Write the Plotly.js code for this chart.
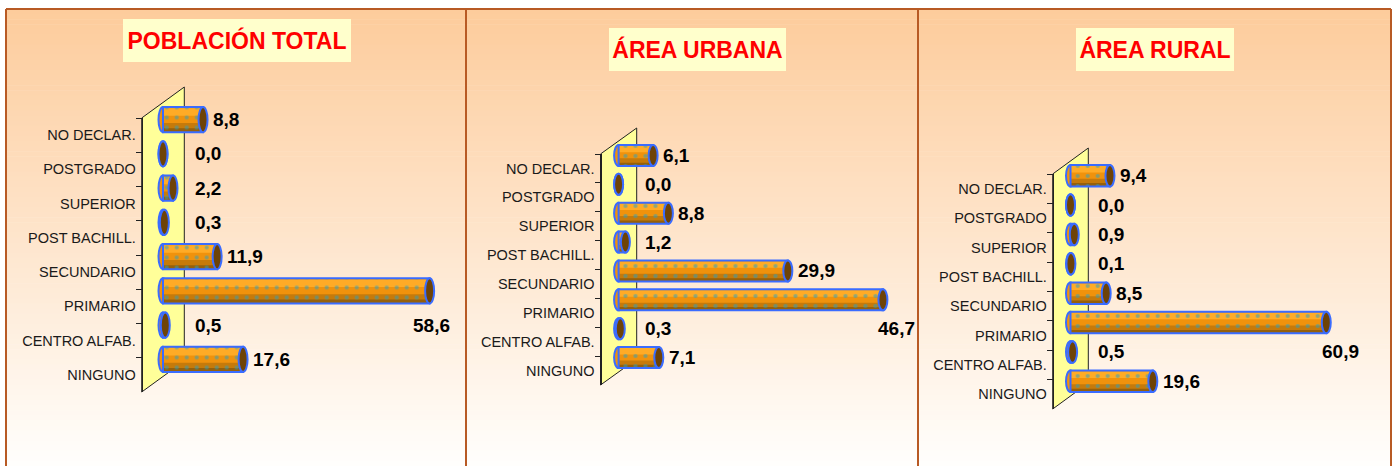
<!DOCTYPE html>
<html><head><meta charset="utf-8">
<script src="https://cdn.plot.ly/plotly-3.0.1.min.js"></script>
<style>html,body{margin:0;padding:0;background:#fff;}#chart{width:1394px;height:466px;}</style>
</head><body><div id="chart"></div>
<script>
// ---- data ----
const categories = ["NO DECLAR.","POSTGRADO","SUPERIOR","POST BACHILL.","SECUNDARIO","PRIMARIO","CENTRO ALFAB.","NINGUNO"];
const totalValues = [8.8, 0.0, 2.2, 0.3, 11.9, 58.6, 0.5, 17.6];
const urbanValues = [6.1, 0.0, 8.8, 1.2, 29.9, 46.7, 0.3, 7.1];
const ruralValues = [9.4, 0.0, 0.9, 0.1, 8.5, 60.9, 0.5, 19.6];
const panelTitles = ["POBLACIÓN TOTAL", "ÁREA URBANA", "ÁREA RURAL"];

// ---- layout geometry (pixels) ----
const W = 1394, H = 466;
const px = x => x / W, py = y => 1 - y / H;
const FONT = "Liberation Sans, Arial, sans-serif";
const panels = [
  {values: totalValues, title: panelTitles[0], front: 141.7, dx: 42.6, dy: -31, top: 118, bottom: 392, ppu: 4.55, right: 462, minLabel: 32, maxShift: 20, titleX: 237, titleY: 40.5, titleW: 224},
  {values: urbanValues, title: panelTitles[1], front: 600.5, dx: 36.2, dy: -26, top: 154, bottom: 385, ppu: 5.66, right: 916, minLabel: 26, maxShift: 32, titleX: 697.5, titleY: 49.5, titleW: 173},
  {values: ruralValues, title: panelTitles[2], front: 1052.7, dx: 35.6, dy: -26, top: 174, bottom: 409, ppu: 4.2, right: 1389, minLabel: 27, maxShift: 33, titleX: 1155, titleY: 49.5, titleW: 154}
];
const BW = 0.73;
const BLUE = "#3A6CFF";

const traces = [], shapes = [], annotations = [];
const layout = {
  width: W, height: H, margin: {l: 0, r: 0, t: 0, b: 0},
  paper_bgcolor: "#ffffff", plot_bgcolor: "rgba(0,0,0,0)",
  barmode: "overlay", showlegend: false, font: {family: FONT}
};

// background gradient strips
const N = 90, y0bg = 9, y1bg = 466;
const cTop = [253, 204, 156], cBot = [255, 254, 252];
for (let k = 0; k < N; k++) {
  const t = k / (N - 1);
  const c = cTop.map((a, j) => Math.round(a + (cBot[j] - a) * t));
  shapes.push({type: "rect", xref: "paper", yref: "paper", layer: "below",
    x0: px(6), x1: px(1391), y0: py(y0bg + (y1bg - y0bg) * k / N), y1: py(y0bg + (y1bg - y0bg) * (k + 1) / N + 0.6),
    fillcolor: `rgb(${c[0]},${c[1]},${c[2]})`, line: {width: 0}});
}
// panel borders
const BORDER = "#B85A24";
shapes.push({type: "line", xref: "paper", yref: "paper", layer: "above", x0: px(6), x1: px(1391), y0: py(9), y1: py(9), line: {color: BORDER, width: 2}});
[6, 466, 918, 1391].forEach(x => shapes.push({type: "line", xref: "paper", yref: "paper", layer: "above", x0: px(x), x1: px(x), y0: py(9), y1: py(466), line: {color: BORDER, width: 2}}));

panels.forEach((p, i) => {
  const xid = i === 0 ? "x" : "x" + (i + 1);
  const ybId = i === 0 ? "y" : "y" + (2 * i + 1);
  const ylId = "y" + (2 * i + 2);
  const xkey = i === 0 ? "xaxis" : "xaxis" + (i + 1);
  const ybKey = i === 0 ? "yaxis" : "yaxis" + (2 * i + 1);
  const ylKey = "yaxis" + (2 * i + 2);
  const zero = p.front + p.dx / 2;
  const band = (p.bottom - p.top) / categories.length;
  const maxV = Math.max(...p.values);

  layout[xkey] = {domain: [px(p.front), px(p.right)], range: [(p.front - zero) / p.ppu, (p.right - zero) / p.ppu],
    visible: false, showgrid: false, zeroline: false, anchor: ybId, fixedrange: true};
  layout[ybKey] = {type: "category", categoryorder: "array", categoryarray: categories, range: [7.5, -0.5],
    domain: [py(p.bottom + p.dy / 2), py(p.top + p.dy / 2)], visible: false, anchor: xid, fixedrange: true};
  layout[ylKey] = {type: "category", categoryorder: "array", categoryarray: categories, range: [7.5, -0.5],
    domain: [py(p.bottom), py(p.top)], anchor: "free", position: px(p.front), side: "left",
    ticks: "outside", tickson: "boundaries", ticklen: 6, tickwidth: 1, tickcolor: "#222",
    ticklabelstandoff: 3,
    showline: true, linecolor: "#222", linewidth: 1, showgrid: false, zeroline: false,
    tickfont: {family: FONT, size: 14.5, color: "#1a1a1a"}, fixedrange: true};

  // 3D wall
  const f = p.front, b = p.front + p.dx;
  shapes.push({type: "path", xref: "paper", yref: "paper", layer: "below",
    path: `M ${px(f)} ${py(p.top)} L ${px(b)} ${py(p.top + p.dy)} L ${px(b)} ${py(p.bottom + p.dy)} L ${px(f)} ${py(p.bottom)} Z`,
    fillcolor: "#FFFF99", line: {color: "#222", width: 1}});

  // invisible trace to carry category label axis
  traces.push({type: "scatter", mode: "markers", x: p.values.map(() => 0), y: categories, xaxis: xid, yaxis: ylId,
    marker: {opacity: 0}, hoverinfo: "skip", showlegend: false});

  const common = {type: "bar", orientation: "h", x: p.values, y: categories, xaxis: xid, yaxis: ybId,
    hoverinfo: "skip", showlegend: false, textposition: "none"};
  traces.push(Object.assign({}, common, {width: BW, marker: {color: "#F0920C", line: {width: 0}}}));
  traces.push(Object.assign({}, common, {offset: -0.33, width: 0.22, marker: {color: "#FFAB26", line: {width: 0}}}));
  traces.push(Object.assign({}, common, {offset: 0.1, width: 0.265, marker: {color: "#C67A0A", line: {width: 0}}}));
  traces.push(Object.assign({}, common, {offset: 0.25, width: 0.115, marker: {color: "#96600A", line: {width: 0}}}));
  traces.push(Object.assign({}, common, {width: BW, marker: {color: "rgba(0,0,0,0)",
    pattern: {shape: ".", fgcolor: "#1FA2CC", size: 10, solidity: 0.14, fillmode: "overlay"},
    line: {color: BLUE, width: 2}}}));

  p.values.forEach((v, idx) => {
    // left rounded end
    shapes.push({type: "circle", xref: xid, yref: ybId, layer: "below", xsizemode: "pixel", xanchor: 0, x0: -4.5, x1: 4.5,
      y0: idx - BW / 2, y1: idx + BW / 2, fillcolor: "#F0920C", line: {color: BLUE, width: 2}});
    // end face
    shapes.push({type: "circle", xref: xid, yref: ybId, layer: "above", xsizemode: "pixel", xanchor: v, x0: -4.5, x1: 4.5,
      y0: idx - BW / 2, y1: idx + BW / 2, fillcolor: "#6E4307", line: {color: BLUE, width: 2}});
    const txt = "<b>" + v.toFixed(1).replace(".", ",") + "</b>";
    const base = {xref: xid, yref: ybId, x: v, y: categories[idx], text: txt, showarrow: false,
      font: {family: FONT, size: 19, color: "#000"}, yanchor: "middle"};
    if (v === maxV) {
      annotations.push(Object.assign(base, {xanchor: "right", xshift: p.maxShift + 2, yshift: -band}));
    } else {
      annotations.push(Object.assign(base, {xanchor: "left", xshift: Math.max(8, p.minLabel - v * p.ppu - 2)}));
    }
  });

  annotations.push({xref: "paper", yref: "paper", x: px(p.titleX), y: py(p.titleY), xanchor: "center", yanchor: "middle",
    text: "<b>" + p.title + "</b>", showarrow: false, font: {family: FONT, size: 23, color: "#FF0000"},
    bgcolor: "#FFFFCC", width: p.titleW, height: 39, borderpad: 2, borderwidth: 0});
});

layout.shapes = shapes;
layout.annotations = annotations;
Plotly.newPlot("chart", traces, layout, {displayModeBar: false, staticPlot: true});
</script>
</body></html>
